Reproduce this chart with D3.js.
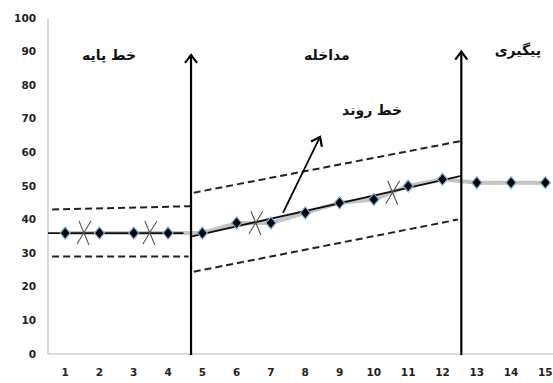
<!DOCTYPE html>
<html><head><meta charset="utf-8">
<script src="https://cdn.jsdelivr.net/npm/d3@7"></script>
<style>body{margin:0;background:#fff}svg{display:block}</style>
</head><body>
<svg id="c" width="553" height="383"></svg>
<script>
const sessions = [1,2,3,4,5,6,7,8,9,10,11,12,13,14,15];
const scores = [36,36,36,36,36,39,39,42,45,46,50,52,51,51,51];
const yTicks = [0,10,20,30,40,50,60,70,80,90,100];
const phaseLines = [{x:4.67, top:89}, {x:12.55, top:90}];
const baseTrend = [[0.5,36],[4.45,36]];
const interTrend = [[4.7,35],[12.55,53]];
const bandLines = [
  [[0.62,43],[4.7,44]],
  [[0.62,29],[4.6,29]],
  [[4.75,48],[12.6,63.5]],
  [[4.75,24.5],[12.45,40]]
];
const trendArrow = [[7.35,42],[8.43,64.6]];
const stars = [[1.55,36],[3.47,36],[6.56,39],[10.55,48]];
const labels = [
  {t:"خط پایه", x:2.28, y:89},
  {t:"مداخله", x:8.63, y:89},
  {t:"پیگیری", x:14.2, y:90.5},
  {t:"خط روند", x:9.95, y:72.6}
];

const svg = d3.select("#c");
const x = d3.scaleLinear().domain([0.5,15.5]).range([48, 48+15*34.3]);
const y = d3.scaleLinear().domain([0,100]).range([354,18]);

const defs = svg.append("defs");
defs.append("marker").attr("id","ah").attr("viewBox","-10 -8 12 16")
  .attr("refX",0).attr("refY",0).attr("markerWidth",12).attr("markerHeight",16)
  .attr("markerUnits","userSpaceOnUse").attr("orient","auto")
  .append("path").attr("d","M-8,-6 L0,0 L-8,6").attr("fill","none").attr("stroke","#000").attr("stroke-width",2.2);

// axes lines
svg.append("line").attr("x1",x(0.5)).attr("x2",x(0.5)).attr("y1",y(100)).attr("y2",y(0))
  .attr("stroke","#d9d9d9").attr("stroke-width",2);
svg.append("line").attr("x1",x(0.5)).attr("x2",553).attr("y1",y(0)).attr("y2",y(0))
  .attr("stroke","#d9d9d9").attr("stroke-width",2);

// y tick labels
svg.append("g").selectAll("text").data(yTicks).join("text")
  .attr("x",36).attr("y",d=>y(d)).attr("dy","0.35em").attr("text-anchor","end")
  .attr("font-family","DejaVu Sans, sans-serif").attr("font-weight","bold").attr("font-size",10.5)
  .attr("fill","#222").text(d=>d);
// x tick labels
svg.append("g").selectAll("text").data(sessions).join("text")
  .attr("x",d=>x(d)).attr("y",372).attr("dy","0.35em").attr("text-anchor","middle")
  .attr("font-family","DejaVu Sans, sans-serif").attr("font-weight","bold").attr("font-size",10.5)
  .attr("fill","#222").text(d=>d);

const line = d3.line().x(d=>x(d[0])).y(d=>y(d[1]));

// data grey line
svg.append("path").datum(sessions.map((s,i)=>[s,scores[i]])).attr("d",line)
  .attr("fill","none").attr("stroke","#c4c4c4").attr("stroke-width",4);

// dashed bands
bandLines.forEach(b=>{
  svg.append("path").datum(b).attr("d",line).attr("fill","none")
    .attr("stroke","#222").attr("stroke-width",2).attr("stroke-dasharray","7,4");
});

// trend lines
[baseTrend, interTrend].forEach(t=>{
  svg.append("path").datum(t).attr("d",line).attr("fill","none")
    .attr("stroke","#111").attr("stroke-width",1.8);
});

// diamonds
const dg = svg.append("g");
sessions.forEach((s,i)=>{
  const cx = x(s), cy = y(scores[i]);
  dg.append("path").attr("d",`M${cx},${cy-6}L${cx+5},${cy}L${cx},${cy+6}L${cx-5},${cy}Z`)
    .attr("fill","#000").attr("stroke","#7fb0e0").attr("stroke-width",1.2);
});

// stars
stars.forEach(s=>{
  const cx=x(s[0]), cy=y(s[1]);
  svg.append("path").attr("d",`M${cx-5},${cy-12}L${cx+5},${cy+12}M${cx+7},${cy-12}L${cx-7},${cy+11}`)
    .attr("stroke","#555").attr("stroke-width",1.1).attr("fill","none");
});

// phase arrows
phaseLines.forEach(p=>{
  svg.append("line").attr("x1",x(p.x)).attr("x2",x(p.x)).attr("y1",y(0)+1).attr("y2",y(p.top))
    .attr("stroke","#000").attr("stroke-width",2.2).attr("marker-end","url(#ah)");
});

// trend arrow
svg.append("path").datum(trendArrow).attr("d",line).attr("fill","none")
  .attr("stroke","#000").attr("stroke-width",1.8).attr("marker-end","url(#ah)");

// labels
svg.append("g").selectAll("text").data(labels).join("text")
  .attr("x",d=>x(d.x)).attr("y",d=>y(d.y)).attr("dy","0.35em").attr("text-anchor","middle")
  .attr("direction","rtl")
  .attr("font-family","DejaVu Sans, sans-serif").attr("font-weight","bold").attr("font-size",14)
  .attr("fill","#111").text(d=>d.t);
</script>
</body></html>
